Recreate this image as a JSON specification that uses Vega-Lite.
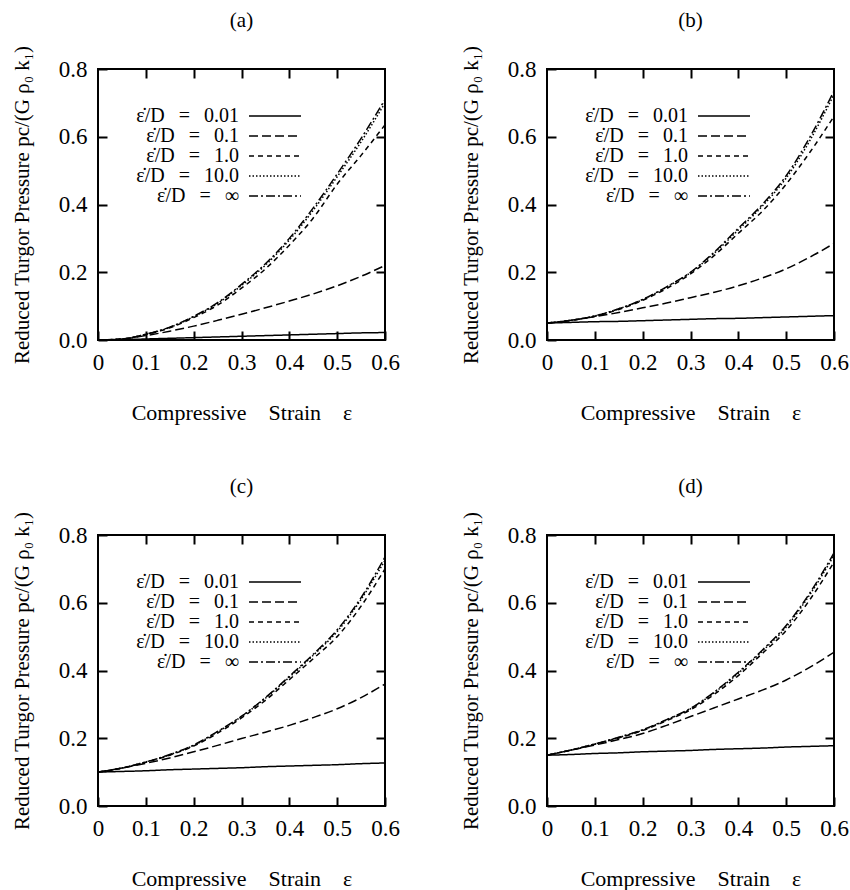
{
  "$schema": "https://vega.github.io/schema/vega-lite/v6.json",
  "padding": {"left": 10, "top": 8, "right": 5, "bottom": 5},
  "data": {"values": [
    {"panel": "a", "x": 0, "r001": 0, "r01": 0, "r1": 0, "r10": 0, "rinf": 0},
    {"panel": "a", "x": 0.05, "r001": 0.001, "r01": 0.003, "r1": 0.003, "r10": 0.003, "rinf": 0.003},
    {"panel": "a", "x": 0.1, "r001": 0.003, "r01": 0.013, "r1": 0.016, "r10": 0.017, "rinf": 0.017},
    {"panel": "a", "x": 0.15, "r001": 0.005, "r01": 0.026, "r1": 0.036, "r10": 0.037, "rinf": 0.038},
    {"panel": "a", "x": 0.2, "r001": 0.007, "r01": 0.041, "r1": 0.066, "r10": 0.069, "rinf": 0.07},
    {"panel": "a", "x": 0.25, "r001": 0.009, "r01": 0.058, "r1": 0.103, "r10": 0.108, "rinf": 0.11},
    {"panel": "a", "x": 0.3, "r001": 0.011, "r01": 0.076, "r1": 0.153, "r10": 0.161, "rinf": 0.164},
    {"panel": "a", "x": 0.35, "r001": 0.013, "r01": 0.095, "r1": 0.21, "r10": 0.221, "rinf": 0.225},
    {"panel": "a", "x": 0.4, "r001": 0.015, "r01": 0.115, "r1": 0.28, "r10": 0.295, "rinf": 0.3},
    {"panel": "a", "x": 0.45, "r001": 0.017, "r01": 0.136, "r1": 0.36, "r10": 0.383, "rinf": 0.39},
    {"panel": "a", "x": 0.5, "r001": 0.019, "r01": 0.16, "r1": 0.46, "r10": 0.482, "rinf": 0.49},
    {"panel": "a", "x": 0.55, "r001": 0.021, "r01": 0.188, "r1": 0.545, "r10": 0.585, "rinf": 0.595},
    {"panel": "a", "x": 0.6, "r001": 0.022, "r01": 0.22, "r1": 0.635, "r10": 0.7, "rinf": 0.71},
    {"panel": "b", "x": 0, "r001": 0.05, "r01": 0.05, "r1": 0.05, "r10": 0.05, "rinf": 0.05},
    {"panel": "b", "x": 0.05, "r001": 0.052, "r01": 0.058, "r1": 0.058, "r10": 0.058, "rinf": 0.058},
    {"panel": "b", "x": 0.1, "r001": 0.054, "r01": 0.069, "r1": 0.07, "r10": 0.071, "rinf": 0.071},
    {"panel": "b", "x": 0.15, "r001": 0.055, "r01": 0.081, "r1": 0.09, "r10": 0.092, "rinf": 0.092},
    {"panel": "b", "x": 0.2, "r001": 0.057, "r01": 0.095, "r1": 0.117, "r10": 0.119, "rinf": 0.12},
    {"panel": "b", "x": 0.25, "r001": 0.059, "r01": 0.109, "r1": 0.152, "r10": 0.156, "rinf": 0.157},
    {"panel": "b", "x": 0.3, "r001": 0.061, "r01": 0.125, "r1": 0.195, "r10": 0.199, "rinf": 0.2},
    {"panel": "b", "x": 0.35, "r001": 0.063, "r01": 0.141, "r1": 0.25, "r10": 0.257, "rinf": 0.26},
    {"panel": "b", "x": 0.4, "r001": 0.064, "r01": 0.16, "r1": 0.315, "r10": 0.325, "rinf": 0.33},
    {"panel": "b", "x": 0.45, "r001": 0.066, "r01": 0.183, "r1": 0.38, "r10": 0.395, "rinf": 0.4},
    {"panel": "b", "x": 0.5, "r001": 0.068, "r01": 0.21, "r1": 0.46, "r10": 0.478, "rinf": 0.485},
    {"panel": "b", "x": 0.55, "r001": 0.07, "r01": 0.245, "r1": 0.555, "r10": 0.59, "rinf": 0.6},
    {"panel": "b", "x": 0.6, "r001": 0.072, "r01": 0.285, "r1": 0.66, "r10": 0.725, "rinf": 0.735},
    {"panel": "c", "x": 0, "r001": 0.1, "r01": 0.1, "r1": 0.1, "r10": 0.1, "rinf": 0.1},
    {"panel": "c", "x": 0.05, "r001": 0.102, "r01": 0.112, "r1": 0.112, "r10": 0.112, "rinf": 0.112},
    {"panel": "c", "x": 0.1, "r001": 0.104, "r01": 0.126, "r1": 0.129, "r10": 0.13, "rinf": 0.13},
    {"panel": "c", "x": 0.15, "r001": 0.107, "r01": 0.142, "r1": 0.15, "r10": 0.151, "rinf": 0.152},
    {"panel": "c", "x": 0.2, "r001": 0.109, "r01": 0.16, "r1": 0.177, "r10": 0.179, "rinf": 0.18},
    {"panel": "c", "x": 0.25, "r001": 0.111, "r01": 0.179, "r1": 0.215, "r10": 0.219, "rinf": 0.22},
    {"panel": "c", "x": 0.3, "r001": 0.113, "r01": 0.199, "r1": 0.26, "r10": 0.264, "rinf": 0.265},
    {"panel": "c", "x": 0.35, "r001": 0.116, "r01": 0.218, "r1": 0.312, "r10": 0.318, "rinf": 0.32},
    {"panel": "c", "x": 0.4, "r001": 0.118, "r01": 0.238, "r1": 0.373, "r10": 0.38, "rinf": 0.383},
    {"panel": "c", "x": 0.45, "r001": 0.12, "r01": 0.261, "r1": 0.435, "r10": 0.445, "rinf": 0.448},
    {"panel": "c", "x": 0.5, "r001": 0.122, "r01": 0.287, "r1": 0.5, "r10": 0.515, "rinf": 0.52},
    {"panel": "c", "x": 0.55, "r001": 0.125, "r01": 0.32, "r1": 0.59, "r10": 0.61, "rinf": 0.615},
    {"panel": "c", "x": 0.6, "r001": 0.127, "r01": 0.36, "r1": 0.7, "r10": 0.725, "rinf": 0.735},
    {"panel": "d", "x": 0, "r001": 0.15, "r01": 0.15, "r1": 0.15, "r10": 0.15, "rinf": 0.15},
    {"panel": "d", "x": 0.05, "r001": 0.152, "r01": 0.165, "r1": 0.165, "r10": 0.165, "rinf": 0.165},
    {"panel": "d", "x": 0.1, "r001": 0.155, "r01": 0.18, "r1": 0.182, "r10": 0.183, "rinf": 0.183},
    {"panel": "d", "x": 0.15, "r001": 0.157, "r01": 0.196, "r1": 0.201, "r10": 0.202, "rinf": 0.203},
    {"panel": "d", "x": 0.2, "r001": 0.16, "r01": 0.214, "r1": 0.223, "r10": 0.224, "rinf": 0.225},
    {"panel": "d", "x": 0.25, "r001": 0.162, "r01": 0.238, "r1": 0.252, "r10": 0.254, "rinf": 0.255},
    {"panel": "d", "x": 0.3, "r001": 0.164, "r01": 0.264, "r1": 0.284, "r10": 0.287, "rinf": 0.288},
    {"panel": "d", "x": 0.35, "r001": 0.167, "r01": 0.29, "r1": 0.33, "r10": 0.335, "rinf": 0.337},
    {"panel": "d", "x": 0.4, "r001": 0.169, "r01": 0.316, "r1": 0.385, "r10": 0.392, "rinf": 0.395},
    {"panel": "d", "x": 0.45, "r001": 0.171, "r01": 0.342, "r1": 0.45, "r10": 0.457, "rinf": 0.46},
    {"panel": "d", "x": 0.5, "r001": 0.174, "r01": 0.372, "r1": 0.518, "r10": 0.528, "rinf": 0.533},
    {"panel": "d", "x": 0.55, "r001": 0.176, "r01": 0.41, "r1": 0.61, "r10": 0.625, "rinf": 0.63},
    {"panel": "d", "x": 0.6, "r001": 0.178, "r01": 0.454, "r1": 0.72, "r10": 0.74, "rinf": 0.747}
  ]},
  "transform": [{"fold": ["r001", "r01", "r1", "r10", "rinf"], "as": ["rate", "y"]}],
  "columns": 2,
  "spacing": {"row": 50, "column": 58},
  "concat": [
    {
      "title": "(a)",
      "width": 287, "height": 271,
      "transform": [{"filter": "datum.panel == 'a'"}],
      "layer": [
        {
          "mark": {"type": "line", "interpolate": "monotone", "strokeWidth": 1.5, "color": "black", "clip": true},
          "encoding": {
            "x": {"field": "x", "type": "quantitative", "scale": {"domain": [0, 0.6], "nice": false}, "axis": {"values": [0, 0.1, 0.2, 0.3, 0.4, 0.5, 0.6], "labelExpr": "datum.value == 0 ? '0' : format(datum.value, '.1f')"}, "title": "Compressive\u2003Strain\u2003ε"},
            "y": {"field": "y", "type": "quantitative", "scale": {"domain": [0, 0.8], "nice": false}, "axis": {"values": [0, 0.2, 0.4, 0.6, 0.8], "format": ".1f"}, "title": "Reduced Turgor Pressure  pc/(G ρ₀ k₁)"},
            "strokeDash": {"field": "rate", "type": "nominal", "scale": {"domain": ["r001", "r01", "r1", "r10", "rinf"], "range": [[1, 0], [9, 4], [5, 4], [1.5, 2], [9, 3, 2, 3]]}, "legend": {"labelExpr": "datum.value == 'r001' ? 'ε̇/D\u2002\u2009=\u2002\u20090.01' : datum.value == 'r01' ? 'ε̇/D\u2002\u2009=\u2002\u20090.1' : datum.value == 'r1' ? 'ε̇/D\u2002\u2009=\u2002\u20091.0' : datum.value == 'r10' ? 'ε̇/D\u2002\u2009=\u2002\u200910.0' : 'ε̇/D\u2002\u2009=\u2002\u2009∞'"}}
          }
        },
        {
          "mark": {"type": "point", "opacity": 0},
          "encoding": {
            "x": {"field": "x", "type": "quantitative", "axis": {"orient": "top", "labels": false, "title": null, "values": [0.1, 0.2, 0.3, 0.4, 0.5]}},
            "y": {"field": "y", "type": "quantitative", "axis": {"orient": "right", "labels": false, "title": null, "values": [0.2, 0.4, 0.6]}}
          }
        }
      ],
      "resolve": {"axis": {"x": "independent", "y": "independent"}}
    },
    {
      "title": "(b)",
      "width": 287, "height": 271,
      "transform": [{"filter": "datum.panel == 'b'"}],
      "layer": [
        {
          "mark": {"type": "line", "interpolate": "monotone", "strokeWidth": 1.5, "color": "black", "clip": true},
          "encoding": {
            "x": {"field": "x", "type": "quantitative", "scale": {"domain": [0, 0.6], "nice": false}, "axis": {"values": [0, 0.1, 0.2, 0.3, 0.4, 0.5, 0.6], "labelExpr": "datum.value == 0 ? '0' : format(datum.value, '.1f')"}, "title": "Compressive\u2003Strain\u2003ε"},
            "y": {"field": "y", "type": "quantitative", "scale": {"domain": [0, 0.8], "nice": false}, "axis": {"values": [0, 0.2, 0.4, 0.6, 0.8], "format": ".1f"}, "title": "Reduced Turgor Pressure  pc/(G ρ₀ k₁)"},
            "strokeDash": {"field": "rate", "type": "nominal", "scale": {"domain": ["r001", "r01", "r1", "r10", "rinf"], "range": [[1, 0], [9, 4], [5, 4], [1.5, 2], [9, 3, 2, 3]]}, "legend": {"labelExpr": "datum.value == 'r001' ? 'ε̇/D\u2002\u2009=\u2002\u20090.01' : datum.value == 'r01' ? 'ε̇/D\u2002\u2009=\u2002\u20090.1' : datum.value == 'r1' ? 'ε̇/D\u2002\u2009=\u2002\u20091.0' : datum.value == 'r10' ? 'ε̇/D\u2002\u2009=\u2002\u200910.0' : 'ε̇/D\u2002\u2009=\u2002\u2009∞'"}}
          }
        },
        {
          "mark": {"type": "point", "opacity": 0},
          "encoding": {
            "x": {"field": "x", "type": "quantitative", "axis": {"orient": "top", "labels": false, "title": null, "values": [0.1, 0.2, 0.3, 0.4, 0.5]}},
            "y": {"field": "y", "type": "quantitative", "axis": {"orient": "right", "labels": false, "title": null, "values": [0.2, 0.4, 0.6]}}
          }
        }
      ],
      "resolve": {"axis": {"x": "independent", "y": "independent"}}
    },
    {
      "title": "(c)",
      "width": 287, "height": 271,
      "transform": [{"filter": "datum.panel == 'c'"}],
      "layer": [
        {
          "mark": {"type": "line", "interpolate": "monotone", "strokeWidth": 1.5, "color": "black", "clip": true},
          "encoding": {
            "x": {"field": "x", "type": "quantitative", "scale": {"domain": [0, 0.6], "nice": false}, "axis": {"values": [0, 0.1, 0.2, 0.3, 0.4, 0.5, 0.6], "labelExpr": "datum.value == 0 ? '0' : format(datum.value, '.1f')"}, "title": "Compressive\u2003Strain\u2003ε"},
            "y": {"field": "y", "type": "quantitative", "scale": {"domain": [0, 0.8], "nice": false}, "axis": {"values": [0, 0.2, 0.4, 0.6, 0.8], "format": ".1f"}, "title": "Reduced Turgor Pressure  pc/(G ρ₀ k₁)"},
            "strokeDash": {"field": "rate", "type": "nominal", "scale": {"domain": ["r001", "r01", "r1", "r10", "rinf"], "range": [[1, 0], [9, 4], [5, 4], [1.5, 2], [9, 3, 2, 3]]}, "legend": {"labelExpr": "datum.value == 'r001' ? 'ε̇/D\u2002\u2009=\u2002\u20090.01' : datum.value == 'r01' ? 'ε̇/D\u2002\u2009=\u2002\u20090.1' : datum.value == 'r1' ? 'ε̇/D\u2002\u2009=\u2002\u20091.0' : datum.value == 'r10' ? 'ε̇/D\u2002\u2009=\u2002\u200910.0' : 'ε̇/D\u2002\u2009=\u2002\u2009∞'"}}
          }
        },
        {
          "mark": {"type": "point", "opacity": 0},
          "encoding": {
            "x": {"field": "x", "type": "quantitative", "axis": {"orient": "top", "labels": false, "title": null, "values": [0.1, 0.2, 0.3, 0.4, 0.5]}},
            "y": {"field": "y", "type": "quantitative", "axis": {"orient": "right", "labels": false, "title": null, "values": [0.2, 0.4, 0.6]}}
          }
        }
      ],
      "resolve": {"axis": {"x": "independent", "y": "independent"}}
    },
    {
      "title": "(d)",
      "width": 287, "height": 271,
      "transform": [{"filter": "datum.panel == 'd'"}],
      "layer": [
        {
          "mark": {"type": "line", "interpolate": "monotone", "strokeWidth": 1.5, "color": "black", "clip": true},
          "encoding": {
            "x": {"field": "x", "type": "quantitative", "scale": {"domain": [0, 0.6], "nice": false}, "axis": {"values": [0, 0.1, 0.2, 0.3, 0.4, 0.5, 0.6], "labelExpr": "datum.value == 0 ? '0' : format(datum.value, '.1f')"}, "title": "Compressive\u2003Strain\u2003ε"},
            "y": {"field": "y", "type": "quantitative", "scale": {"domain": [0, 0.8], "nice": false}, "axis": {"values": [0, 0.2, 0.4, 0.6, 0.8], "format": ".1f"}, "title": "Reduced Turgor Pressure  pc/(G ρ₀ k₁)"},
            "strokeDash": {"field": "rate", "type": "nominal", "scale": {"domain": ["r001", "r01", "r1", "r10", "rinf"], "range": [[1, 0], [9, 4], [5, 4], [1.5, 2], [9, 3, 2, 3]]}, "legend": {"labelExpr": "datum.value == 'r001' ? 'ε̇/D\u2002\u2009=\u2002\u20090.01' : datum.value == 'r01' ? 'ε̇/D\u2002\u2009=\u2002\u20090.1' : datum.value == 'r1' ? 'ε̇/D\u2002\u2009=\u2002\u20091.0' : datum.value == 'r10' ? 'ε̇/D\u2002\u2009=\u2002\u200910.0' : 'ε̇/D\u2002\u2009=\u2002\u2009∞'"}}
          }
        },
        {
          "mark": {"type": "point", "opacity": 0},
          "encoding": {
            "x": {"field": "x", "type": "quantitative", "axis": {"orient": "top", "labels": false, "title": null, "values": [0.1, 0.2, 0.3, 0.4, 0.5]}},
            "y": {"field": "y", "type": "quantitative", "axis": {"orient": "right", "labels": false, "title": null, "values": [0.2, 0.4, 0.6]}}
          }
        }
      ],
      "resolve": {"axis": {"x": "independent", "y": "independent"}}
    }
  ],
  "resolve": {"scale": {"strokeDash": "independent"}, "legend": {"strokeDash": "independent"}},
  "config": {
    "font": "Liberation Serif",
    "background": "white",
    "view": {"stroke": "black", "strokeWidth": 2},
    "axis": {
      "domain": false, "grid": false,
      "tickColor": "black", "tickWidth": 2, "tickSize": -9,
      "labelFont": "Liberation Serif", "labelFontSize": 23, "labelColor": "black", "labelPadding": 20,
      "titleFont": "Liberation Serif", "titleFontSize": 21, "titleFontWeight": "normal", "titleColor": "black", "titlePadding": 26
    },
    "axisX": {"labelFlush": false, "labelOverlap": false, "titlePadding": 28, "titleFontSize": 22},
    "axisY": {"labelOverlap": false},
    "legend": {
      "orient": "none", "legendX": 167, "legendY": 37,
      "title": null,
      "symbolType": "M-5.2,0H5.2", "symbolSize": 100, "symbolStrokeWidth": 1.5, "symbolStrokeColor": "black", "symbolFillColor": "transparent",
      "labelAlign": "right", "labelOffset": -46,
      "labelFont": "Liberation Serif", "labelFontSize": 20, "labelColor": "black", "labelLimit": 300,
      "rowPadding": 0, "padding": 0
    },
    "title": {"font": "Liberation Serif", "fontSize": 21, "fontWeight": "normal", "color": "black", "offset": 12, "anchor": "middle"}
  }
}
